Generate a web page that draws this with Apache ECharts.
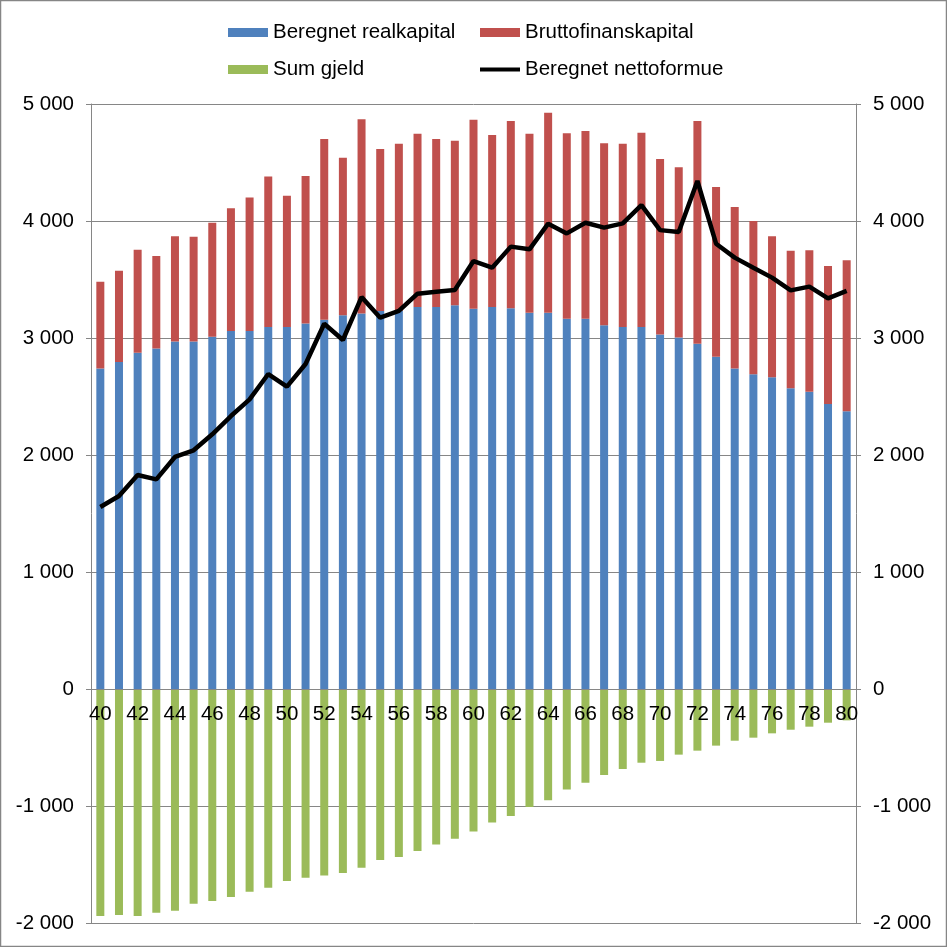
<!DOCTYPE html>
<html>
<head>
<meta charset="utf-8">
<script src="https://cdn.jsdelivr.net/npm/echarts@6/dist/echarts.min.js"></script>
<style>
html,body{margin:0;padding:0;background:#fff;}
#c{width:947px;height:947px;}
</style>
</head>
<body>
<div id="c"></div>
<script>
const categories = ['40','41','42','43','44','45','46','47','48','49','50','51','52','53','54','55','56','57','58','59','60','61','62','63','64','65','66','67','68','69','70','71','72','73','74','75','76','77','78','79','80'];
const realkapital = [2740,2795,2875,2910,2970,2970,3010,3060,3060,3095,3095,3125,3155,3195,3210,3230,3230,3265,3265,3280,3250,3265,3255,3215,3215,3165,3165,3110,3095,3095,3030,3005,2950,2840,2740,2690,2665,2570,2540,2435,2375];
const finanskapital = [740,780,880,790,900,895,975,1050,1140,1285,1120,1260,1545,1345,1660,1385,1430,1480,1435,1405,1615,1470,1600,1530,1710,1585,1605,1555,1565,1660,1500,1455,1905,1450,1380,1310,1205,1175,1210,1180,1290];
const gjeld = [-1940,-1932,-1940,-1912,-1895,-1835,-1812,-1778,-1733,-1698,-1641,-1613,-1595,-1573,-1527,-1462,-1436,-1385,-1328,-1279,-1219,-1142,-1085,-1009,-951,-860,-801,-735,-684,-630,-615,-561,-527,-484,-442,-416,-379,-348,-322,-288,-268];
const nettoformue = [1556,1650,1829,1792,1983,2040,2177,2333,2476,2692,2584,2778,3122,2983,3350,3174,3231,3379,3396,3410,3658,3601,3781,3758,3977,3894,3985,3943,3980,4135,3922,3906,4342,3806,3687,3601,3516,3407,3439,3339,3402];
const seriesNames = ['Beregnet realkapital','Bruttofinanskapital','Sum gjeld','Beregnet nettoformue'];

const FONT = '"Liberation Sans", Arial, sans-serif';
const FS = 20.5;
const GRAY = '#868686';
const Y_MIN = -2000, Y_MAX = 5000;
const GRID_TOP = 104, GRID_BOTTOM = 24, H = 947;
function fmt(v){
  const s = String(Math.abs(v)).replace(/\B(?=(\d{3})+(?!\d))/g,' ');
  return (v < 0 ? '-' : '') + s;
}
function yAxisCfg(pos){
  return {
    type:'value', position:pos, min:Y_MIN, max:Y_MAX, interval:1000,
    axisLine:{show:true, onZero:false, lineStyle:{color:GRAY, width:1}},
    axisTick:{show:true, length:5, lineStyle:{color:GRAY}},
    splitLine:{show: pos==='left', lineStyle:{color:GRAY, width:1}},
    axisLabel:{formatter:fmt, color:'#000', fontSize:FS, fontFamily:FONT, margin:17}
  };
}
function legendCfg(name, left, top, isLine){
  return {
    data:[{name:name, icon:'rect'}], left:left, top:top, itemWidth:40, itemHeight: isLine ? 4 : 9, itemGap:0,
    textStyle:{color:'#000', fontSize:FS, fontFamily:FONT},
    padding:0
  };
}
// x axis sits at the value 0 of the y scale
const plotH = H - GRID_TOP - GRID_BOTTOM;
const zeroOffset = -plotH * (0 - Y_MIN) / (Y_MAX - Y_MIN);

const chart = echarts.init(document.getElementById('c'), null, {renderer:'canvas'});
chart.setOption({
  animation:false,
  backgroundColor:'#fff',
  grid:{left:91, right:91, top:GRID_TOP, bottom:GRID_BOTTOM, containLabel:false, outerBoundsMode:'none'},
  legend:[
    legendCfg(seriesNames[0], 228, 22, false),
    legendCfg(seriesNames[1], 480, 22, false),
    legendCfg(seriesNames[2], 228, 59, false),
    legendCfg(seriesNames[3], 480, 59, true)
  ],
  graphic:[{type:'rect', shape:{x:0.5,y:0.5,width:946,height:946}, style:{fill:'none', stroke:GRAY, lineWidth:1.5}, silent:true, z:100}],
  xAxis:{
    type:'category', data:categories, position:'bottom', offset:zeroOffset, z:10,
    axisLine:{show:true, onZero:false, lineStyle:{color:GRAY, width:1}},
    axisTick:{show:false},
    axisLabel:{interval:1, color:'#000', fontSize:FS, fontFamily:FONT, margin:15}
  },
  yAxis:[yAxisCfg('left'), yAxisCfg('right')],
  series:[
    {name:seriesNames[0], type:'bar', stack:'a', data:realkapital, barWidth:8, itemStyle:{color:'#4F81BD'}},
    {name:seriesNames[1], type:'bar', stack:'a', data:finanskapital, barWidth:8, itemStyle:{color:'#C0504D'}},
    {name:seriesNames[2], type:'bar', stack:'a', data:gjeld, barWidth:8, itemStyle:{color:'#9BBB59'}},
    {name:seriesNames[3], type:'line', yAxisIndex:1, data:nettoformue, symbol:'none', itemStyle:{color:'#000'}, lineStyle:{color:'#000', width:4.5}, z:5}
  ]
});
</script>
</body>
</html>
